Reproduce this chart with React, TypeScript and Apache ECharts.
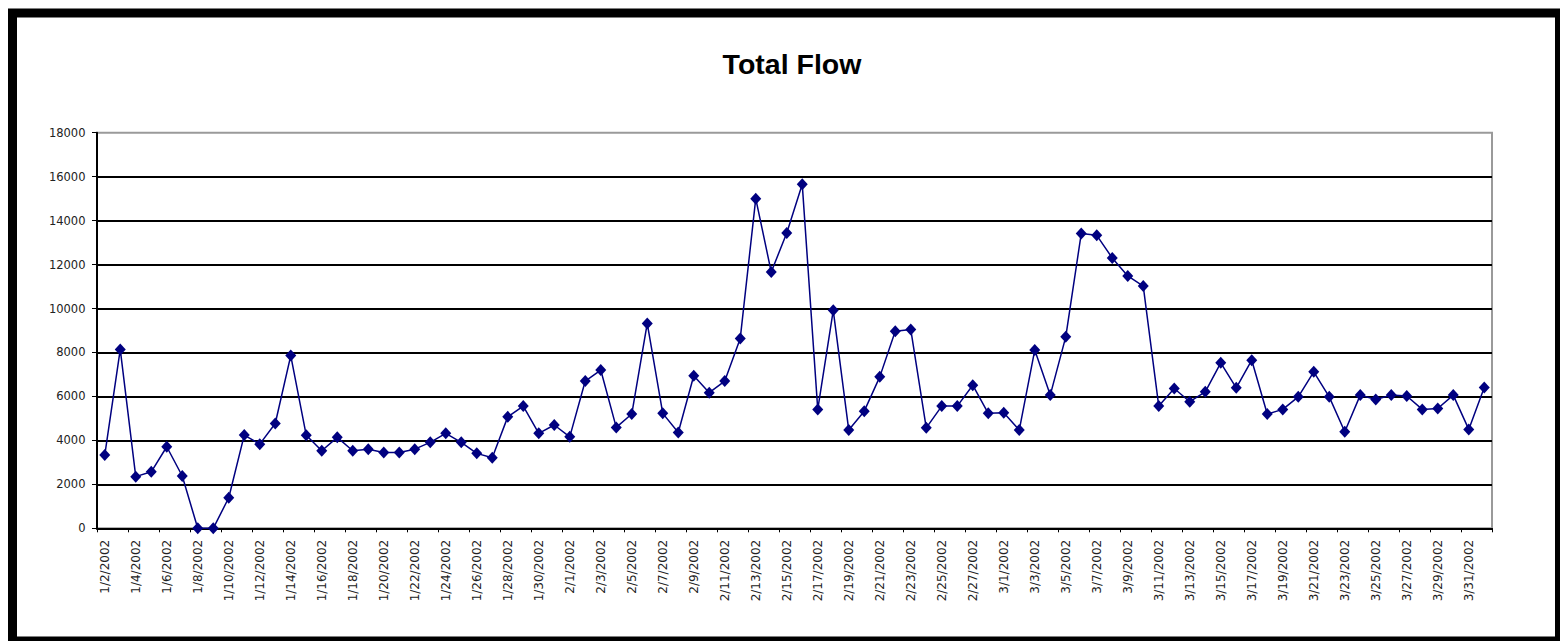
import React, { useEffect, useRef } from "react";
import * as echarts from "echarts";

const chartTitle = "Total Flow";

const dates = [
  "1/2/2002","1/3/2002","1/4/2002","1/5/2002","1/6/2002","1/7/2002","1/8/2002","1/9/2002","1/10/2002","1/11/2002",
  "1/12/2002","1/13/2002","1/14/2002","1/15/2002","1/16/2002","1/17/2002","1/18/2002","1/19/2002","1/20/2002","1/21/2002",
  "1/22/2002","1/23/2002","1/24/2002","1/25/2002","1/26/2002","1/27/2002","1/28/2002","1/29/2002","1/30/2002","1/31/2002",
  "2/1/2002","2/2/2002","2/3/2002","2/4/2002","2/5/2002","2/6/2002","2/7/2002","2/8/2002","2/9/2002","2/10/2002",
  "2/11/2002","2/12/2002","2/13/2002","2/14/2002","2/15/2002","2/16/2002","2/17/2002","2/18/2002","2/19/2002","2/20/2002",
  "2/21/2002","2/22/2002","2/23/2002","2/24/2002","2/25/2002","2/26/2002","2/27/2002","2/28/2002",
  "3/1/2002","3/2/2002","3/3/2002","3/4/2002","3/5/2002","3/6/2002","3/7/2002","3/8/2002","3/9/2002","3/10/2002",
  "3/11/2002","3/12/2002","3/13/2002","3/14/2002","3/15/2002","3/16/2002","3/17/2002","3/18/2002","3/19/2002","3/20/2002",
  "3/21/2002","3/22/2002","3/23/2002","3/24/2002","3/25/2002","3/26/2002","3/27/2002","3/28/2002","3/29/2002","3/30/2002",
  "3/31/2002","4/1/2002"
];

const janFlow = [
  3330, 8140, 2350, 2570, 3710, 2380, 0, 0, 1390, 4240,
  3830, 4770, 7860, 4230, 3530, 4140, 3530, 3600, 3450, 3450,
  3600, 3910, 4320, 3910, 3410, 3210, 5070, 5560, 4320, 4700
];
const febFlow = [
  4160, 6700, 7200, 4590, 5200, 9320, 5230, 4360, 6940, 6170,
  6700, 8640, 15000, 11660, 13440, 15650, 5410, 9920, 4470, 5330,
  6890, 8970, 9050, 4570, 5560, 5560, 6510, 5230
];
const marAprFlow = [
  5260, 4470, 8110, 6060, 8710, 13410, 13330, 12300, 11480, 11020,
  5560, 6360, 5760, 6210, 7530, 6390, 7650, 5200, 5410, 5980,
  7120, 5980, 4390, 6060, 5860, 6060, 6020, 5410, 5450, 6060,
  4500, 6410
];
const totalFlow = [...janFlow, ...febFlow, ...marAprFlow];

const yMin = 0;
const yMax = 18000;
const yStep = 2000;

export default function App() {
  const ref = useRef<HTMLDivElement>(null);
  useEffect(() => {
    if (!ref.current) return;
    const chart = echarts.init(ref.current, undefined, { renderer: "svg" });
    chart.setOption({
      animation: false,
      backgroundColor: "#fff",
      grid: {
        left: 97,
        right: 68,
        top: 132.7,
        bottom: 112.7,
        show: true,
        borderColor: "#9a9a9a",
        borderWidth: 2,
        containLabel: false,
      },
      xAxis: {
        type: "category",
        data: dates,
        boundaryGap: true,
        axisLine: { show: true, lineStyle: { color: "#000", width: 2 } },
        axisTick: { show: true, interval: 1, length: 4, lineStyle: { color: "#000", width: 1 } },
        axisLabel: {
          fontFamily: "DejaVu Sans",
          fontSize: 12,
          color: "#222",
          interval: 1,
          rotate: 90,
          margin: 11.5,
        },
        splitLine: { show: false },
      },
      yAxis: {
        type: "value",
        min: yMin,
        max: yMax,
        interval: yStep,
        axisLine: { show: true, lineStyle: { color: "#000", width: 2 } },
        axisTick: { show: true, length: 5, lineStyle: { color: "#000", width: 1 } },
        axisLabel: {
          fontFamily: "DejaVu Sans",
          fontSize: 11.5,
          color: "#222",
          margin: 11.5,
          formatter: (v: number) => String(v),
        },
        splitLine: {
          show: true,
          showMinLine: false,
          showMaxLine: false,
          lineStyle: { color: "#000", width: 2 },
        },
      },
      series: [
        {
          type: "line",
          name: chartTitle,
          data: totalFlow,
          symbol: "diamond",
          symbolSize: [11, 12],
          showAllSymbol: true,
          lineStyle: { color: "#000080", width: 1.5 },
          itemStyle: { color: "#000080" },
        },
      ],
      graphic: [
        {
          type: "rect",
          shape: { x: 12.5, y: 13, width: 1547, height: 628 },
          style: { fill: "none", stroke: "#000", lineWidth: 9 },
          silent: true,
        },
        {
          type: "text",
          x: 792,
          y: 64,
          style: {
            text: chartTitle,
            fontFamily: "Liberation Sans, Arial, sans-serif",
            fontWeight: "bold",
            fontSize: 28.5,
            fill: "#000",
            align: "center",
            verticalAlign: "middle",
          },
          silent: true,
        },
      ],
    });
    return () => chart.dispose();
  }, []);
  return (
    <div
      ref={ref}
      style={{ position: "fixed", left: 0, top: 0, width: 1560, height: 641, background: "#fff" }}
    />
  );
}
